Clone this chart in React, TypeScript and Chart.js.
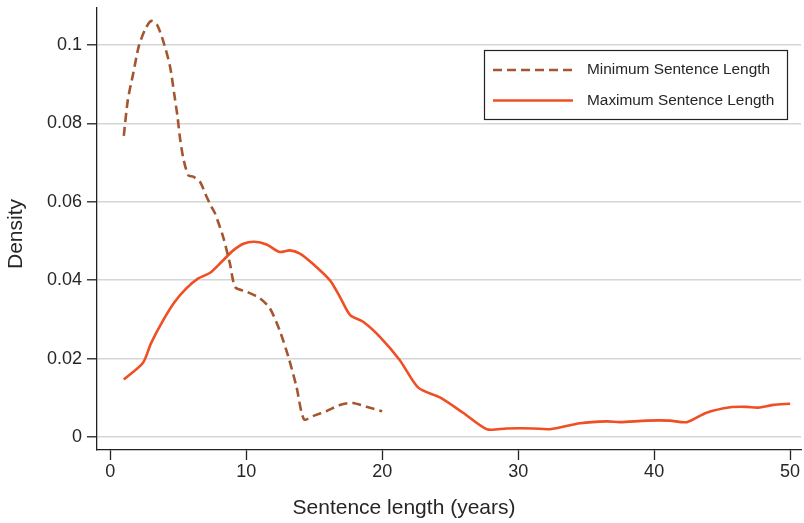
import React, { useEffect, useRef } from 'react';
import { Chart, registerables } from 'chart.js';

Chart.register(...registerables);

const minX = [1, 1.3, 1.7, 2.1, 2.55, 3.0, 3.45, 3.95, 4.4, 4.7, 4.95, 5.15, 5.4, 5.75, 6.1, 6.6, 7.1, 7.45, 7.7, 8.3, 8.8, 9.2, 10.0, 11.0, 11.75, 12.45, 13.1, 13.7, 14.25, 14.95, 15.9, 16.9, 17.85, 18.85, 20.0];
const minY = [0.0768, 0.086, 0.0928, 0.0996, 0.1038, 0.1061, 0.1051, 0.1004, 0.0945, 0.0877, 0.0817, 0.0758, 0.0707, 0.0667, 0.0664, 0.0651, 0.0612, 0.0587, 0.0571, 0.0511, 0.0443, 0.0382, 0.0371, 0.0354, 0.0328, 0.0273, 0.0205, 0.0128, 0.0045, 0.0054, 0.0066, 0.0082, 0.0087, 0.0077, 0.0066];

const maxX = [1, 2.4, 3.0, 3.9, 4.75, 5.6, 6.45, 7.35, 8.2, 9.05, 9.8, 10.6, 11.5, 12.45, 13.2, 13.95, 14.9, 16.15, 16.9, 17.65, 18.6, 19.85, 21.3, 22.65, 24.25, 25.95, 27.7, 29.15, 31.1, 32.35, 34.55, 36.5, 37.5, 39.45, 41.15, 42.4, 43.85, 45.6, 46.8, 47.65, 48.75, 50.0];
const maxY = [0.0147, 0.0189, 0.0239, 0.0298, 0.0345, 0.0379, 0.0404, 0.0419, 0.0447, 0.0476, 0.0493, 0.0498, 0.0491, 0.0472, 0.0476, 0.0468, 0.0442, 0.04, 0.0357, 0.0311, 0.0294, 0.0255, 0.0196, 0.0126, 0.0101, 0.0062, 0.002, 0.0022, 0.0022, 0.002, 0.0035, 0.004, 0.0038, 0.0042, 0.0042, 0.0038, 0.0062, 0.0076, 0.0077, 0.0075, 0.0082, 0.0085];

const seriesLabels = ['Minimum Sentence Length', 'Maximum Sentence Length'];
const xTicks = [0, 10, 20, 30, 40, 50];
const xTickLabels = ['0', '10', '20', '30', '40', '50'];
const yTicks = [0, 0.02, 0.04, 0.06, 0.08, 0.1];
const yTickLabels = ['0', '0.02', '0.04', '0.06', '0.08', '0.1'];
const xTitle = 'Sentence length (years)';
const yTitle = 'Density';

const FONT = '"Liberation Sans", Arial, Helvetica, sans-serif';
const TEXT = '#262626';

const boxLegend = {
  id: 'boxLegend',
  afterDraw(chart: any) {
    const ctx = chart.ctx;
    const left = 484, top = 50, right = 787, bottom = 119;
    const rows = [70, 100.5];
    ctx.save();
    ctx.fillStyle = '#ffffff';
    ctx.fillRect(left, top, right - left, bottom - top);
    ctx.strokeStyle = '#222';
    ctx.lineWidth = 1.2;
    ctx.strokeRect(left + 0.5, top + 0.5, right - left, bottom - top);
    chart.data.datasets.forEach((ds: any, i: number) => {
      const y = rows[i];
      ctx.beginPath();
      ctx.setLineDash(ds.borderDash || []);
      ctx.strokeStyle = ds.borderColor;
      ctx.lineWidth = ds.borderWidth;
      ctx.moveTo(493, y);
      ctx.lineTo(573, y);
      ctx.stroke();
      ctx.setLineDash([]);
      ctx.fillStyle = TEXT;
      ctx.font = `15.4px ${FONT}`;
      ctx.textBaseline = 'middle';
      ctx.textAlign = 'left';
      ctx.fillText(ds.label, 587, y);
    });
    // axis titles, placed as in the reference
    ctx.fillStyle = TEXT;
    ctx.font = `21px ${FONT}`;
    ctx.textAlign = 'center';
    ctx.textBaseline = 'middle';
    ctx.fillText(xTitle, chart.width / 2 + 2, 508);
    ctx.translate(16, 234);
    ctx.rotate(-Math.PI / 2);
    ctx.fillText(yTitle, 0, 0);
    ctx.restore();
  },
};

export default function App() {
  const ref = useRef<HTMLCanvasElement>(null);

  useEffect(() => {
    document.body.style.margin = '0';
    if (!ref.current) return;
    const zeroPad = (s: any) => {
      s.paddingTop = 0;
      s.paddingBottom = 0;
      s.paddingLeft = 0;
      s.paddingRight = 0;
    };
    const chart = new Chart(ref.current, {
      type: 'line',
      data: {
        datasets: [
          {
            label: seriesLabels[0],
            data: minX.map((x, i) => ({ x, y: minY[i] })),
            borderColor: '#a4562f',
            borderWidth: 2.6,
            borderDash: [9, 5],
            pointRadius: 0,
            fill: false,
            tension: 0.25,
          },
          {
            label: seriesLabels[1],
            data: maxX.map((x, i) => ({ x, y: maxY[i] })),
            borderColor: '#f04e23',
            borderWidth: 2.6,
            pointRadius: 0,
            fill: false,
            tension: 0.25,
          },
        ],
      },
      options: {
        animation: false,
        responsive: false,
        maintainAspectRatio: false,
        layout: { padding: { top: 8, right: 3, left: 0, bottom: 0 } },
        plugins: {
          legend: { display: false },
          tooltip: { enabled: false },
        },
        scales: {
          x: {
            type: 'linear',
            min: -0.97,
            max: 50.8,
            afterBuildTicks: (s: any) => {
              s.ticks = xTicks.map((v) => ({ value: v }));
            },
            afterFit: (s: any) => {
              s.height = 73;
              zeroPad(s);
            },
            ticks: {
              font: { family: FONT, size: 18 },
              color: TEXT,
              padding: 1,
              maxRotation: 0,
              autoSkip: false,
              callback: (v: any) => {
                const i = xTicks.indexOf(Number(v));
                return i >= 0 ? xTickLabels[i] : '';
              },
            },
            grid: {
              drawOnChartArea: false,
              drawTicks: true,
              tickLength: 10,
              tickColor: '#222',
              tickWidth: 1.3,
            },
            border: { display: true, color: '#222', width: 1.3 },
            title: { display: false },
          },
          y: {
            type: 'linear',
            min: -0.0033,
            max: 0.1094,
            afterBuildTicks: (s: any) => {
              s.ticks = yTicks.map((v) => ({ value: v }));
            },
            afterFit: (s: any) => {
              s.width = 97;
              zeroPad(s);
            },
            ticks: {
              font: { family: FONT, size: 18 },
              color: TEXT,
              padding: 5,
              autoSkip: false,
              callback: (v: any) => {
                const i = yTicks.findIndex((t) => Math.abs(t - Number(v)) < 1e-9);
                return i >= 0 ? yTickLabels[i] : '';
              },
            },
            grid: {
              color: '#d6d6d6',
              lineWidth: 1.6,
              drawTicks: true,
              tickLength: 10,
              tickColor: '#222',
              tickWidth: 1.3,
            },
            border: { display: true, color: '#222', width: 1.3 },
            title: { display: false },
          },
        },
      },
      plugins: [boxLegend],
    } as any);
    return () => chart.destroy();
  }, []);

  return (
    <div style={{ width: 804, height: 523 }}>
      <canvas ref={ref} width={804} height={523} />
    </div>
  );
}
